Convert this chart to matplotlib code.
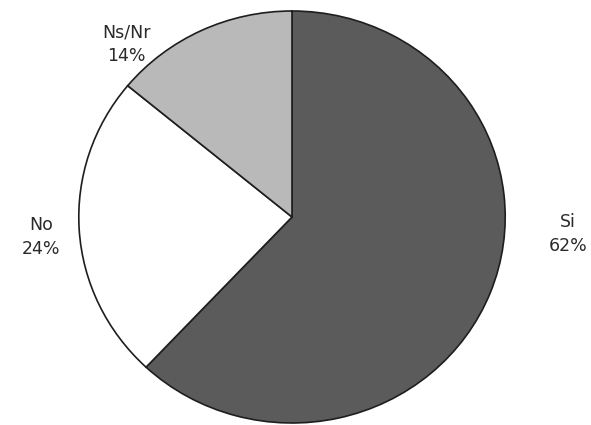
import matplotlib
matplotlib.use("Agg")
import matplotlib.pyplot as plt

# Survey answers
categories = ["Si", "No", "Ns/Nr"]
shares = [62, 24, 14]
colors = ["#5b5b5b", "#ffffff", "#b9b9b9"]

W, H = 591, 425
sx = 1.035  # slight horizontal stretch of the printed disc
fig = plt.figure(figsize=(W / 100, H / 100), dpi=100)
ax = fig.add_axes([0, 0, 1, 1])

cx, cy, r = 292 / sx, H - 217, 206
ax.pie(shares, colors=colors, startangle=90, counterclock=False,
       center=(cx, cy), radius=r, frame=True,
       wedgeprops=dict(edgecolor="#1e1e1e", linewidth=1.2))
ax.set_aspect("auto")
ax.set_xlim(0, W / sx)
ax.set_ylim(0, H)
ax.axis("off")

label_pos = {"Si": (568, H - 234), "No": (41, H - 237), "Ns/Nr": (126, H - 44)}
for name, val in zip(categories, shares):
    x, y = label_pos[name]
    ax.text(x / sx, y, f"{name}\n{val}%", ha="center", va="center",
            fontsize=12.5, family="DejaVu Sans", color="#2a2a2a",
            linespacing=1.4)

fig.savefig("out.png", dpi=100)
